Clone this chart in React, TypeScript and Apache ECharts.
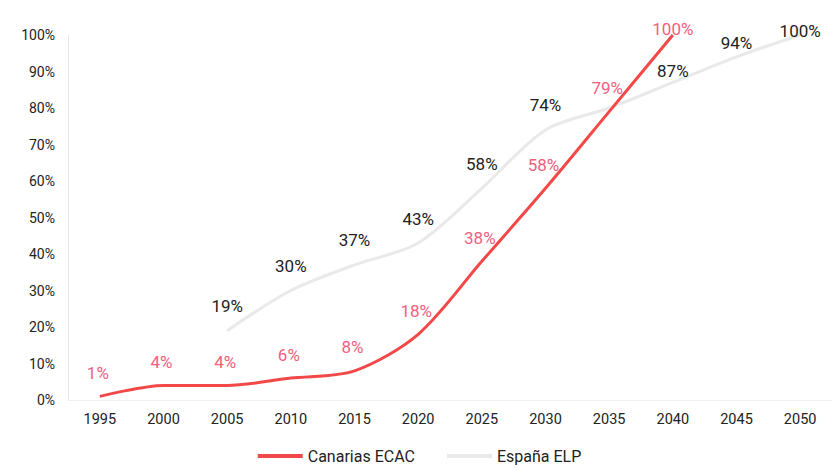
import React, { useEffect, useRef } from "react";
import * as echarts from "echarts";

const years = ["1995", "2000", "2005", "2010", "2015", "2020", "2025", "2030", "2035", "2040", "2045", "2050"];
const canarias = [1, 4, 4, 6, 8, 18, 38, 58, 79, 100, null, null];
const espana = [null, null, 19, 30, 37, 43, 58, 74, 80, 87, 94, 100];
const espanaHiddenLabel = [8];
const yTicks = [0, 10, 20, 30, 40, 50, 60, 70, 80, 90, 100];

const RED = "#f24848";
const RED_LABEL = "#f2607c";
const GRAY = "#e9e9e9";
const DARK = "#222222";

export default function App() {
  const ref = useRef<HTMLDivElement>(null);
  useEffect(() => {
    if (!ref.current) return;
    const chart = echarts.init(ref.current, null, { renderer: "svg" });
    const canData = canarias.map((v, i) => {
      if (v === null) return null;
      const item: any = { value: v };
      if (i === 9) item.label = { offset: [0, 17] };
      return item;
    });
    const espOffsets: Record<number, number[]> = { 9: [0, 13], 10: [0, 11], 11: [0, 20] };
    const espData = espana.map((v, i) => {
      if (v === null) return null;
      const item: any = { value: v };
      if (espanaHiddenLabel.includes(i)) item.label = { show: false };
      else if (espOffsets[i]) item.label = { offset: espOffsets[i] };
      return item;
    });
    chart.setOption({
      animation: false,
      textStyle: { fontFamily: "Roboto" },
      grid: { left: 68, right: 7, top: 35, bottom: 70, containLabel: false },
      legend: {
        bottom: 1,
        left: "center",
        icon: "rect",
        itemWidth: 45,
        itemHeight: 4,
        itemGap: 32,
        textStyle: { fontSize: 16, color: DARK, fontFamily: "Roboto" },
        data: ["Canarias ECAC", "España ELP"],
      },
      xAxis: {
        type: "category",
        data: years,
        boundaryGap: true,
        axisLine: { show: true, lineStyle: { color: "#f0f0f0" } },
        axisTick: { show: false },
        axisLabel: { color: DARK, fontSize: 14.5, margin: 12 },
        splitLine: { show: false },
      },
      yAxis: {
        type: "value",
        min: yTicks[0],
        max: yTicks[yTicks.length - 1],
        interval: 10,
        axisLine: { show: true, lineStyle: { color: "#e6e6e6" } },
        axisTick: { show: false },
        axisLabel: { color: DARK, fontSize: 14, margin: 13, formatter: "{value}%" },
        splitLine: { show: false },
      },
      series: [
        {
          name: "España ELP",
          type: "line",
          data: espData,
          smooth: 0.3,
          symbol: "circle",
          symbolSize: 0,
          showSymbol: true,
          connectNulls: false,
          itemStyle: { color: GRAY },
          lineStyle: { color: GRAY, width: 3 },
          label: {
            show: true,
            position: "top",
            distance: 16,
            color: DARK,
            fontSize: 17,
            fontFamily: "Roboto",
            formatter: "{c}%",
          },
          z: 2,
        },
        {
          name: "Canarias ECAC",
          type: "line",
          data: canData,
          smooth: 0.3,
          symbol: "circle",
          symbolSize: 0,
          showSymbol: true,
          itemStyle: { color: RED },
          lineStyle: { color: RED, width: 3 },
          label: {
            show: true,
            position: "top",
            distance: 15,
            offset: [-2, 0],
            color: RED_LABEL,
            fontSize: 17,
            fontFamily: "Roboto",
            formatter: "{c}%",
          },
          z: 3,
        },
      ],
    });
    return () => chart.dispose();
  }, []);
  return <div ref={ref} style={{ width: 839, height: 470, position: "absolute", left: 0, top: 0 }} />;
}
